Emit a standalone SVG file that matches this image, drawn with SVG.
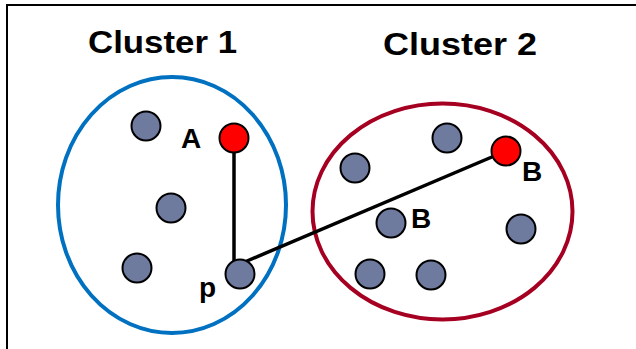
<svg xmlns="http://www.w3.org/2000/svg" width="636" height="349" viewBox="0 0 636 349">
  <style>
    .frame { stroke: #000; stroke-width: 2; fill: none; }
    .title { font-family: "Liberation Sans", Arial, sans-serif; font-weight: bold; font-size: 32px; fill: #000; }
    .label { font-family: "Liberation Sans", Arial, sans-serif; font-weight: bold; font-size: 28px; fill: #000; }
    .pt { fill: #6f7a9f; stroke: #000; stroke-width: 2; }
    .key { fill: #ff0000; stroke: #000; stroke-width: 2; }
    .link { stroke: #000; stroke-width: 3.5; fill: none; }
  </style>

  <!-- partial frame: top and left edges -->
  <path class="frame" d="M7,349 V5 H636"/>

  <text class="title" x="88" y="53" textLength="149" lengthAdjust="spacingAndGlyphs">Cluster 1</text>
  <text class="title" x="383" y="55" textLength="154" lengthAdjust="spacingAndGlyphs">Cluster 2</text>

  <!-- cluster boundaries -->
  <g id="cluster1">
    <ellipse cx="172" cy="205" rx="114" ry="128" fill="none" stroke="#0070c0" stroke-width="4"/>
  </g>
  <g id="cluster2">
    <ellipse cx="442.5" cy="211.5" rx="130" ry="108" fill="none" stroke="#a50021" stroke-width="4"/>
  </g>

  <!-- distance connectors -->
  <g id="connectors">
    <line class="link" x1="234" y1="138" x2="234" y2="274"/>
    <line class="link" x1="240" y1="264" x2="506" y2="151"/>
  </g>

  <!-- points of cluster 1 -->
  <g id="c1-pt1"><circle class="pt" cx="146" cy="126" r="14.5"/></g>
  <g id="c1-A"><circle class="key" cx="234" cy="138" r="14.5"/><text class="label" x="181" y="148">A</text></g>
  <g id="c1-pt2"><circle class="pt" cx="171" cy="208" r="14.5"/></g>
  <g id="c1-pt3"><circle class="pt" cx="137" cy="268" r="14.5"/></g>
  <g id="c1-p"><circle class="pt" cx="240" cy="274" r="14.5"/><text class="label" x="199" y="297">p</text></g>

  <!-- points of cluster 2 -->
  <g id="c2-pt1"><circle class="pt" cx="447" cy="138" r="14.5"/></g>
  <g id="c2-pt2"><circle class="pt" cx="355" cy="168" r="14.5"/></g>
  <g id="c2-Bmid"><circle class="pt" cx="391" cy="223" r="14.5"/><text class="label" x="411" y="228">B</text></g>
  <g id="c2-pt4"><circle class="pt" cx="521" cy="229" r="14.5"/></g>
  <g id="c2-pt5"><circle class="pt" cx="370" cy="274" r="14.5"/></g>
  <g id="c2-pt6"><circle class="pt" cx="431" cy="275" r="14.5"/></g>
  <g id="c2-B"><circle class="key" cx="506" cy="151" r="14.5"/><text class="label" x="522" y="181">B</text></g>
</svg>
